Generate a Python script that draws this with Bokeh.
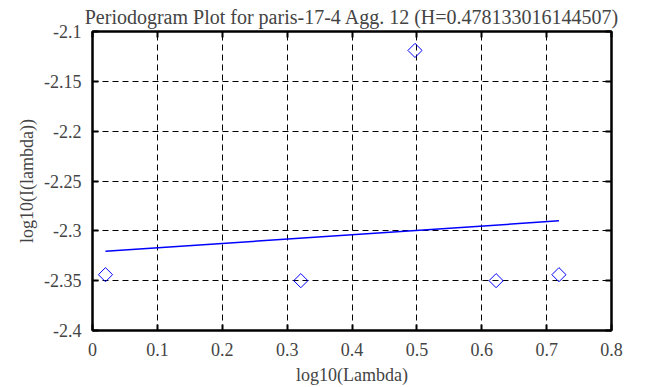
import math
from bokeh.plotting import figure
from bokeh.models import Range1d, LinearAxis, FixedTicker, CustomJSTickFormatter
from bokeh.embed import file_html
from bokeh.resources import INLINE

# data
log_lambda = [0.0200, 0.3211, 0.4971, 0.6221, 0.7190]
log_I = [-2.344, -2.350, -2.119, -2.350, -2.344]
fit_x = [0.0200, 0.7190]
fit_y = [-2.3205, -2.2900]
x_ticks = [0, 0.1, 0.2, 0.3, 0.4, 0.5, 0.6, 0.7, 0.8]
y_ticks = [-2.4, -2.35, -2.3, -2.25, -2.2, -2.15, -2.1]
title_text = "Periodogram Plot for paris-17-4 Agg. 12 (H=0.478133016144507)"

FONT = "Liberation Serif"
FS = "18px"

p = figure(width=663, height=387, output_backend="svg", toolbar_location=None,
           x_range=Range1d(0, 0.8), y_range=Range1d(-2.4, -2.1),
           min_border_left=92, min_border_right=52, min_border_top=31, min_border_bottom=56,
           title=title_text)
p.background_fill_color = "white"
p.border_fill_color = "white"
p.outline_line_color = "black"
p.outline_line_width = 2

p.title.align = "center"
p.title.text_font = FONT
p.title.text_font_size = "20px"
p.title.text_font_style = "normal"
p.title.offset = 0
p.title.standoff = 7

plain = CustomJSTickFormatter(code="return String(Math.round(tick * 100) / 100)")

for ax, ticks in ((p.xaxis[0], x_ticks), (p.yaxis[0], y_ticks)):
    ax.ticker = FixedTicker(ticks=ticks)
    ax.formatter = plain
    ax.major_tick_in = 6
    ax.major_tick_out = 0
    ax.minor_tick_in = 0
    ax.minor_tick_out = 0
    ax.axis_line_width = 2
    ax.major_tick_line_width = 2
    ax.major_label_text_font = FONT
    ax.major_label_text_font_size = FS
    ax.axis_label_text_font = FONT
    ax.axis_label_text_font_size = FS
    ax.axis_label_text_font_style = "normal"

p.xaxis[0].major_label_standoff = 12
p.yaxis[0].major_label_standoff = 11
p.xaxis[0].axis_label = "log10(Lambda)"
p.yaxis[0].axis_label = "log10(I(lambda))"
p.xaxis[0].axis_label_standoff = 6
p.yaxis[0].axis_label_standoff = 4

# mirror ticks (no labels)
blank = CustomJSTickFormatter(code="return ''")
top = LinearAxis(ticker=FixedTicker(ticks=x_ticks), formatter=blank,
                 major_tick_in=6, major_tick_out=0, minor_tick_in=0, minor_tick_out=0,
                 axis_line_width=2, major_tick_line_width=2, major_label_standoff=0)
right = LinearAxis(ticker=FixedTicker(ticks=y_ticks), formatter=blank,
                   major_tick_in=6, major_tick_out=0, minor_tick_in=0, minor_tick_out=0,
                   axis_line_width=2, major_tick_line_width=2, major_label_standoff=0)
p.add_layout(top, "above")
p.add_layout(right, "right")

p.xgrid.ticker = FixedTicker(ticks=x_ticks[1:-1])
p.ygrid.ticker = FixedTicker(ticks=y_ticks[1:-1])
for g in (p.xgrid[0], p.ygrid[0]):
    g.grid_line_color = "black"
    g.grid_line_dash = "6 4"
    g.grid_line_width = 1

p.line(fit_x, fit_y, line_color="#0000ff", line_width=1.5)
p.scatter(log_lambda, log_I, marker="square", size=10, angle=math.pi / 4,
          fill_color=None, line_color="#0000ff", line_width=1)

open("out.html", "w").write(file_html(p, INLINE))
